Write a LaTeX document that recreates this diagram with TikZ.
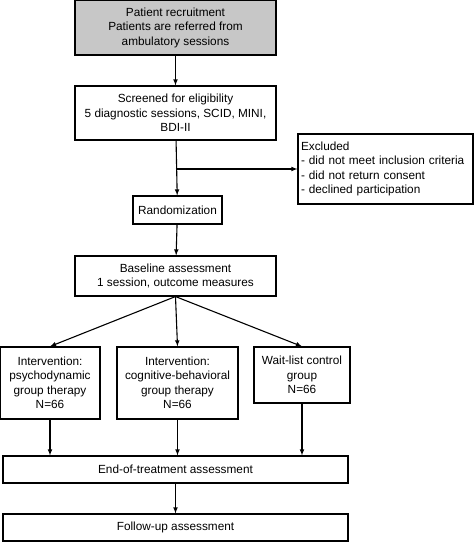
\documentclass[tikz,border=0pt]{standalone}
\usepackage{fontspec}
\setmainfont{Liberation Sans}
\usepackage{tikz}
\usetikzlibrary{arrows}

\begin{document}
\begin{tikzpicture}[x=1pt,y=-1pt,font=\fontsize{11.8}{14.5}\selectfont]
  \useasboundingbox (0,0) rectangle (474,542);
  \tikzstyle{BoxStyle}=[draw,line width=1.1pt,align=center,inner sep=0pt]
  \tikzstyle{EdgeStyle}=[->,>=latex,line width=1.1pt]
  \node[BoxStyle,fill=black!22,minimum width=201,minimum height=55] (Recruit) at (175.5,27.5)
    {Patient recruitment\\Patients are referred from\\ambulatory sessions};
  \node[BoxStyle,minimum width=201,minimum height=54] (Screen) at (175.5,113)
    {Screened for eligibility\\5 diagnostic sessions, SCID, MINI,\\BDI-II};
  \node[BoxStyle,align=left,text width=169,inner xsep=3pt,minimum height=70] (Excl) at (385.5,169)
    {Excluded\\- did not meet inclusion criteria\\- did not return consent\\- declined participation};
  \node[BoxStyle,minimum width=89,minimum height=28] (Rand) at (177.5,210) {Randomization};
  \node[BoxStyle,minimum width=201,minimum height=40] (Base) at (175.5,276)
    {Baseline assessment\\1 session, outcome measures};
  \node[BoxStyle,minimum width=100,minimum height=72] (Psycho) at (50,383)
    {Intervention:\\psychodynamic\\group therapy\\N=66};
  \node[BoxStyle,minimum width=121,minimum height=72] (Cbt) at (177.5,383)
    {Intervention:\\cognitive-behavioral\\group therapy\\N=66};
  \node[BoxStyle,minimum width=96,minimum height=56] (Wait) at (302,375)
    {Wait-list control\\group\\N=66};
  \node[BoxStyle,minimum width=345,minimum height=27] (End) at (175.5,469.5)
    {End-of-treatment assessment};
  \node[BoxStyle,minimum width=345,minimum height=27] (Follow) at (175.5,527.5)
    {Follow-up assessment};
  \coordinate (Split) at (Screen.south |- Excl.west);
  \draw[EdgeStyle] (Recruit) -- (Screen);
  \draw[EdgeStyle] (Screen) -- (Rand);
  \draw[EdgeStyle] (Split) -- (Excl.west);
  \draw[EdgeStyle] (Rand) -- (Base);
  \draw[EdgeStyle] (Base.south) -- (Psycho.north);
  \draw[EdgeStyle] (Base.south) -- (Cbt.north);
  \draw[EdgeStyle] (Base.south) -- (Wait.north);
  \draw[EdgeStyle] (Psycho.south) -- (Psycho.south |- End.north);
  \draw[EdgeStyle] (Cbt.south) -- (Cbt.south |- End.north);
  \draw[EdgeStyle] (Wait.south) -- (Wait.south |- End.north);
  \draw[EdgeStyle] (End) -- (End.south |- Follow.north);
\end{tikzpicture}
\end{document}
